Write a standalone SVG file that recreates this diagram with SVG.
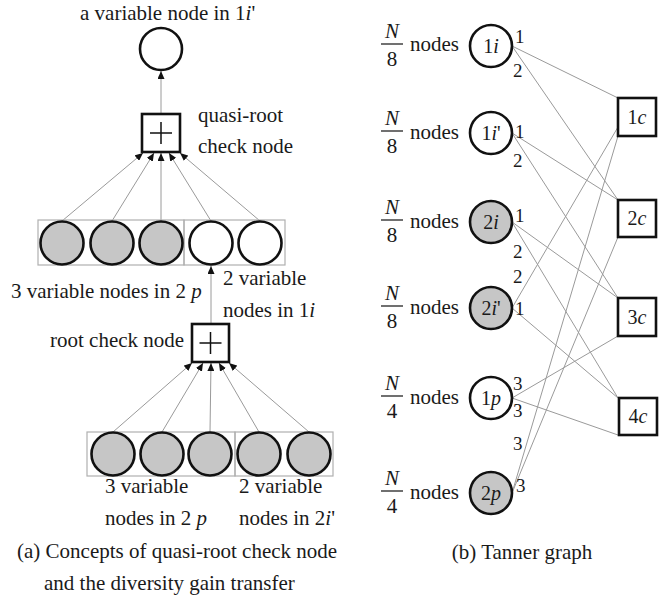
<svg xmlns="http://www.w3.org/2000/svg" width="670" height="599" viewBox="0 0 670 599">
<style>
text { font-family: "Liberation Serif", "Times New Roman", serif; font-size: 21px; fill: #1a1a1a; }
.it { font-style: italic; }
.v { fill: #ffffff; stroke: #111; stroke-width: 2.6; }
.vg { fill: #c6c6c6; stroke: #111; stroke-width: 2.6; }
.chk { fill: #ffffff; stroke: #111; stroke-width: 2.6; }
.plus { stroke: #111; stroke-width: 1.5; fill: none; }
.e { stroke: #9a9a9a; stroke-width: 1; fill: none; }
.box { fill: none; stroke: #b0b0b0; stroke-width: 1.2; }
.lbl { font-size: 20px; text-anchor: middle; }
.port { font-size: 19px; }
.bar { stroke: #111; stroke-width: 1.2; }
.mid { text-anchor: middle; }
</style>
<defs>
<marker id="ah" viewBox="0 0 8 7" refX="8" refY="3.5" markerWidth="8" markerHeight="7" markerUnits="userSpaceOnUse" orient="auto">
<path d="M0,0 L8,3.5 L0,7 z" fill="#111"/>
</marker>
</defs>

<!-- (a) connectors -->
<g id="connectors-a">
<line class="e" x1="161" y1="113" x2="161" y2="71" marker-end="url(#ah)"/>
<line class="e" x1="62" y1="221" x2="143" y2="153" marker-end="url(#ah)"/>
<line class="e" x1="112" y1="221" x2="154" y2="153" marker-end="url(#ah)"/>
<line class="e" x1="161" y1="221" x2="161" y2="153" marker-end="url(#ah)"/>
<line class="e" x1="211" y1="221" x2="169" y2="153" marker-end="url(#ah)"/>
<line class="e" x1="260" y1="221" x2="180" y2="153" marker-end="url(#ah)"/>
<line class="e" x1="211" y1="324" x2="211" y2="266" marker-end="url(#ah)"/>
<line class="e" x1="113" y1="432" x2="192" y2="363" marker-end="url(#ah)"/>
<line class="e" x1="162" y1="432" x2="203" y2="363" marker-end="url(#ah)"/>
<line class="e" x1="210" y1="432" x2="211" y2="363" marker-end="url(#ah)"/>
<line class="e" x1="259" y1="432" x2="219" y2="363" marker-end="url(#ah)"/>
<line class="e" x1="309" y1="432" x2="229" y2="363" marker-end="url(#ah)"/>
</g>

<!-- (a) nodes -->
<g id="top-variable">
<circle class="v" cx="161" cy="49" r="21"/>
<text x="80" y="20">a variable node in 1<tspan class="it">i</tspan>'</text>
</g>
<g id="quasi-root-check">
<rect class="chk" x="142" y="114" width="38" height="38"/>
<path class="plus" d="M150,133 H172 M161,122 V144"/>
<text x="198" y="122">quasi-root</text>
<text x="198" y="153">check node</text>
</g>
<g id="middle-row">
<rect class="box" x="38" y="220" width="146" height="45"/>
<rect class="box" x="184" y="220" width="101" height="45"/>
<circle class="vg" cx="62" cy="243" r="21.5"/>
<circle class="vg" cx="112" cy="243" r="21.5"/>
<circle class="vg" cx="161" cy="243" r="21.5"/>
<circle class="v" cx="211" cy="243" r="21.5"/>
<circle class="v" cx="260" cy="243" r="21.5"/>
<text x="11" y="298">3 variable nodes in 2 <tspan class="it">p</tspan></text>
<text x="223" y="285">2 variable</text>
<text x="223" y="317">nodes in 1<tspan class="it">i</tspan></text>
</g>
<g id="root-check">
<rect class="chk" x="192" y="324" width="37" height="38"/>
<path class="plus" d="M199.5,343 H221.5 M210.5,332 V354"/>
<text x="50" y="347">root check node</text>
</g>
<g id="bottom-row">
<rect class="box" x="87" y="432" width="148" height="44"/>
<rect class="box" x="235" y="432" width="98" height="44"/>
<circle class="vg" cx="113" cy="454" r="21.5"/>
<circle class="vg" cx="162" cy="454" r="21.5"/>
<circle class="vg" cx="210" cy="454" r="21.5"/>
<circle class="vg" cx="259" cy="454" r="21.5"/>
<circle class="vg" cx="309" cy="454" r="21.5"/>
<text x="105" y="493">3 variable</text>
<text x="105" y="525">nodes in 2 <tspan class="it">p</tspan></text>
<text x="239" y="493">2 variable</text>
<text x="239" y="525">nodes in 2<tspan class="it">i</tspan>'</text>
</g>
<g id="caption-a">
<text x="17" y="558">(a) Concepts of quasi-root check node</text>
<text x="44" y="590">and the diversity gain transfer</text>
</g>

<!-- (b) connectors -->
<g id="connectors-b">
<line class="e" x1="512" y1="46" x2="618" y2="98"/>
<line class="e" x1="512" y1="46" x2="618" y2="200"/>
<line class="e" x1="512" y1="133" x2="618" y2="200"/>
<line class="e" x1="512" y1="133" x2="618" y2="298"/>
<line class="e" x1="512" y1="222" x2="618" y2="298"/>
<line class="e" x1="512" y1="222" x2="618" y2="398"/>
<line class="e" x1="512" y1="308" x2="618" y2="127"/>
<line class="e" x1="512" y1="308" x2="618" y2="398"/>
<line class="e" x1="512" y1="398" x2="618" y2="336"/>
<line class="e" x1="512" y1="398" x2="618" y2="435"/>
<line class="e" x1="512" y1="493" x2="618" y2="136"/>
<line class="e" x1="512" y1="493" x2="618" y2="237"/>
</g>

<!-- (b) variable nodes -->
<g id="v-1i">
<text class="it mid" x="392" y="38">N</text>
<line class="bar" x1="381" y1="44" x2="403" y2="44"/>
<text class="mid" x="392" y="66">8</text>
<text x="410" y="51">nodes</text>
<circle class="v" cx="491" cy="46" r="21"/>
<text class="lbl" x="491" y="53">1<tspan class="it">i</tspan></text>
<text class="port" x="515" y="43">1</text>
<text class="port" x="513" y="77">2</text>
</g>
<g id="v-1i-prime">
<text class="it mid" x="392" y="125">N</text>
<line class="bar" x1="381" y1="131" x2="403" y2="131"/>
<text class="mid" x="392" y="153">8</text>
<text x="410" y="139">nodes</text>
<circle class="v" cx="491" cy="133" r="21"/>
<text class="lbl" x="491" y="140">1<tspan class="it">i</tspan>'</text>
<text class="port" x="515" y="138">1</text>
<text class="port" x="513" y="167">2</text>
</g>
<g id="v-2i">
<text class="it mid" x="392" y="214">N</text>
<line class="bar" x1="381" y1="220" x2="403" y2="220"/>
<text class="mid" x="392" y="242">8</text>
<text x="410" y="228">nodes</text>
<circle class="vg" cx="491" cy="222" r="21"/>
<text class="lbl" x="491" y="229">2<tspan class="it">i</tspan></text>
<text class="port" x="515" y="222">1</text>
<text class="port" x="513" y="258">2</text>
</g>
<g id="v-2i-prime">
<text class="it mid" x="392" y="300">N</text>
<line class="bar" x1="381" y1="306" x2="403" y2="306"/>
<text class="mid" x="392" y="328">8</text>
<text x="410" y="314">nodes</text>
<circle class="vg" cx="491" cy="308" r="21"/>
<text class="lbl" x="491" y="315">2<tspan class="it">i</tspan>'</text>
<text class="port" x="513" y="283">2</text>
<text class="port" x="515" y="315">1</text>
</g>
<g id="v-1p">
<text class="it mid" x="392" y="390">N</text>
<line class="bar" x1="381" y1="396" x2="403" y2="396"/>
<text class="mid" x="392" y="418">4</text>
<text x="410" y="404">nodes</text>
<circle class="v" cx="491" cy="398" r="21"/>
<text class="lbl" x="491" y="405">1<tspan class="it">p</tspan></text>
<text class="port" x="513" y="390">3</text>
<text class="port" x="513" y="417">3</text>
</g>
<g id="v-2p">
<text class="it mid" x="392" y="485">N</text>
<line class="bar" x1="381" y1="491" x2="403" y2="491"/>
<text class="mid" x="392" y="513">4</text>
<text x="410" y="499">nodes</text>
<circle class="vg" cx="491" cy="493" r="21"/>
<text class="lbl" x="491" y="500">2<tspan class="it">p</tspan></text>
<text class="port" x="513" y="450">3</text>
<text class="port" x="516" y="492">3</text>
</g>

<!-- (b) check nodes -->
<g id="c-1c">
<rect class="chk" x="618" y="98" width="38" height="38"/>
<text class="lbl" x="637" y="124">1<tspan class="it">c</tspan></text>
</g>
<g id="c-2c">
<rect class="chk" x="618" y="200" width="38" height="37"/>
<text class="lbl" x="637" y="225">2<tspan class="it">c</tspan></text>
</g>
<g id="c-3c">
<rect class="chk" x="618" y="298" width="38" height="38"/>
<text class="lbl" x="637" y="324">3<tspan class="it">c</tspan></text>
</g>
<g id="c-4c">
<rect class="chk" x="619" y="398" width="38" height="37"/>
<text class="lbl" x="638" y="423">4<tspan class="it">c</tspan></text>
</g>
<g id="caption-b">
<text class="mid" x="522" y="559">(b) Tanner graph</text>
</g>
</svg>
